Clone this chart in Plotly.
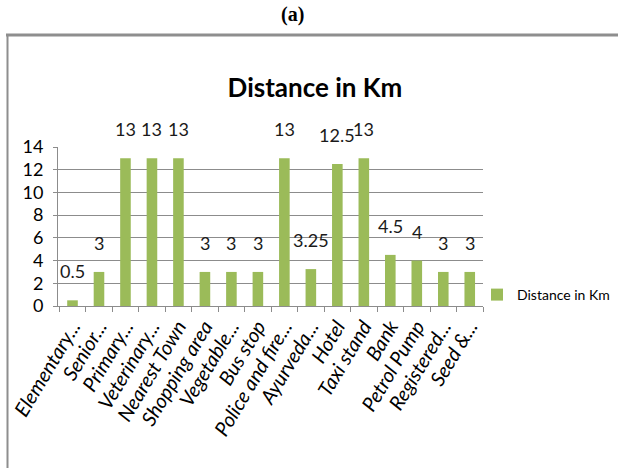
import plotly.graph_objects as go

# Distance from the village to each facility, in km
facilities = [
    "Elementary...", "Senior...", "Primary...", "Veterinary...", "Nearest Town",
    "Shopping area", "Vegetable...", "Bus stop", "Police and fire...", "Ayurveda...",
    "Hotel", "Taxi stand", "Bank", "Petrol Pump", "Registered...", "Seed &...",
]
distance_km = [0.5, 3, 13, 13, 13, 3, 3, 3, 13, 3.25, 12.5, 13, 4.5, 4, 3, 3]
series_name = "Distance in Km"
y_ticks = [0, 2, 4, 6, 8, 10, 12, 14]

W, H = 618, 468
# plot-area edges in pixels
L, R, T, B = 58, 483, 147, 306


def px_x(p):
    return (p - L) / (R - L)


def px_y(p):
    return (B - p) / (B - T)


FONT = "Lato, Carlito, Calibri, sans-serif"
GREEN = "#9BBB59"
GRID = "#8C8C8C"

fig = go.Figure()
fig.add_trace(go.Bar(
    x=facilities, y=distance_km, name=series_name,
    marker=dict(color=GREEN, line=dict(width=0)),
    width=0.4, showlegend=True,
))

# value labels floating above each bar
for name, v in zip(facilities, distance_km):
    fig.add_annotation(
        x=name, y=v, text=f"{v:g}", showarrow=False,
        yanchor="bottom", yshift=16,
        font=dict(family=FONT, size=18, color="#1a1a1a"),
    )

# panel label
fig.add_annotation(
    x=px_x(292), y=px_y(14), xref="paper", yref="paper",
    text="<b>(a)</b>", showarrow=False, xanchor="center", yanchor="middle",
    font=dict(family="Liberation Serif, Times New Roman, serif", size=20, color="#000"),
)

# frame around the chart
fig.add_shape(type="line", xref="paper", yref="paper",
              x0=px_x(6), x1=px_x(620), y0=px_y(35), y1=px_y(35),
              line=dict(color="#8E8E8E", width=3))
fig.add_shape(type="line", xref="paper", yref="paper",
              x0=px_x(7.5), x1=px_x(7.5), y0=px_y(34), y1=px_y(470),
              line=dict(color="#8E8E8E", width=2))

fig.update_layout(
    width=W, height=H,
    margin=dict(l=L, r=W - R, t=T, b=H - B, pad=0, autoexpand=False),
    paper_bgcolor="white", plot_bgcolor="white",
    title=dict(
        text="<b>Distance in Km</b>", x=315 / W, xanchor="center",
        y=1 - 88 / H, yanchor="middle", yref="container",
        font=dict(family=FONT, size=26, color="#000"),
    ),
    bargap=0.6,
    xaxis=dict(
        type="category", tickmode="array", tickvals=facilities,
        tickangle=-59, tickson="boundaries",
        ticks="outside", ticklen=5, tickcolor=GRID,
        showline=True, linecolor=GRID, linewidth=1,
        showgrid=False,
        tickfont=dict(family=FONT, size=20, color="#000", style="italic"),
    ),
    yaxis=dict(
        range=[0, 14], tickvals=y_ticks, ticks="outside", ticklen=4, tickcolor=GRID,
        showline=True, linecolor=GRID, linewidth=1,
        showgrid=True, gridcolor=GRID, gridwidth=1, zeroline=False,
        tickfont=dict(family=FONT, size=18, color="#000"),
        ticklabelstandoff=6,
    ),
    legend=dict(
        x=px_x(477), y=px_y(295), xanchor="left", yanchor="middle",
        font=dict(family=FONT, size=14, color="#000"),
        itemwidth=30, bgcolor="rgba(0,0,0,0)",
    ),
)

fig.write_html("out.html")
